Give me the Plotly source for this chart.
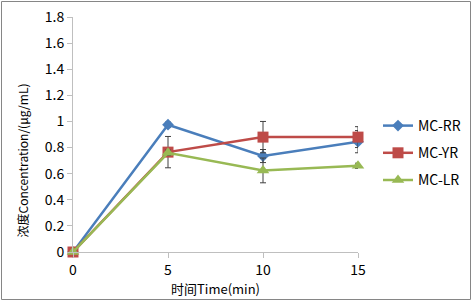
import plotly.graph_objects as go

time_min = [0, 5, 10, 15]
series_names = ["MC-RR", "MC-YR", "MC-LR"]
mc_rr = [0, 0.975, 0.735, 0.845]
mc_yr = [0, 0.765, 0.88, 0.88]
mc_lr = [0, 0.76, 0.625, 0.66]
err_rr = [0, 0.02, 0.05, 0.085]
err_yr = [0, 0.12, 0.12, 0.08]
err_lr = [0, 0.02, 0.095, 0.02]
y_ticks = [0, 0.2, 0.4, 0.6, 0.8, 1, 1.2, 1.4, 1.6, 1.8]
y_tick_labels = ["0", "0.2", "0.4", "0.6", "0.8", "1", "1.2", "1.4", "1.6", "1.8"]
x_ticks = [0, 5, 10, 15]
x_title = "时间Time(min)"
y_title = "浓度Concentration/(μg/mL)"

colors = ["#4A7EBB", "#BE4B48", "#98B954"]
symbols = ["diamond", "square", "triangle-up"]
sizes = [9, 11, 11]

W, H = 472, 302
L, R, T, B = 73, 358, 17, 252

fig = go.Figure()
for i, (name, ys, es) in enumerate(zip(series_names, [mc_rr, mc_yr, mc_lr], [err_rr, err_yr, err_lr])):
    fig.add_trace(go.Scatter(
        x=time_min, y=ys, name=name, mode="lines+markers",
        line=dict(color=colors[i], width=2.5),
        marker=dict(symbol=symbols[i], size=sizes[i], color=colors[i]),
        error_y=dict(type="data", array=es, visible=True, color="#404040", thickness=1, width=3),
        legendgroup=name, cliponaxis=False,
    ))

font_family = "Noto Sans CJK SC, Noto Sans, sans-serif"

def px_x(px):
    return (px - L) / (R - L)

def px_y(py):
    return (B - py) / (B - T)

fig.update_layout(
    width=W, height=H,
    margin=dict(l=L, r=W - R, t=T, b=H - B, autoexpand=False),
    paper_bgcolor="white", plot_bgcolor="white",
    font=dict(family=font_family, color="#000000", size=13),
    showlegend=True,
    legend=dict(x=px_x(378), y=px_y(110), xanchor="left", yanchor="top",
                font=dict(size=14, color="#000000"), tracegroupgap=6,
                itemwidth=30, bgcolor="rgba(0,0,0,0)"),
    xaxis=dict(range=[0, 15], tickvals=x_ticks, ticktext=[str(v) for v in x_ticks],
               showgrid=False, zeroline=False, showline=True, linecolor="#BFBFBF", linewidth=1,
               ticks="outside", ticklen=5, tickcolor="#BFBFBF", automargin=False,
               tickfont=dict(size=14, color="#000000"),
               title=dict(text=x_title, font=dict(size=13, color="#000000"), standoff=1)),
    yaxis=dict(range=[0, 1.8], tickvals=y_ticks, ticktext=y_tick_labels,
               showgrid=False, zeroline=False, showline=True, linecolor="#BFBFBF", linewidth=1,
               ticks="outside", ticklen=5, tickcolor="#BFBFBF", automargin=False,
               tickfont=dict(size=14, color="#000000")),
    annotations=[dict(text=y_title, textangle=-90, xref="paper", yref="paper",
                      x=px_x(21.5), y=px_y(161), xanchor="center", yanchor="middle",
                      showarrow=False, font=dict(size=12, color="#000000"))],
    shapes=[dict(type="rect", xref="paper", yref="paper",
                 x0=px_x(1.5), x1=px_x(470.5), y0=px_y(299.5), y1=px_y(1.5),
                 line=dict(color="#868686", width=1), fillcolor="rgba(0,0,0,0)", layer="below")],
)

fig.write_html("out.html", config={"displayModeBar": False},
               post_script="document.body.style.margin='0';document.body.style.padding='0';document.body.style.overflow='hidden';")
